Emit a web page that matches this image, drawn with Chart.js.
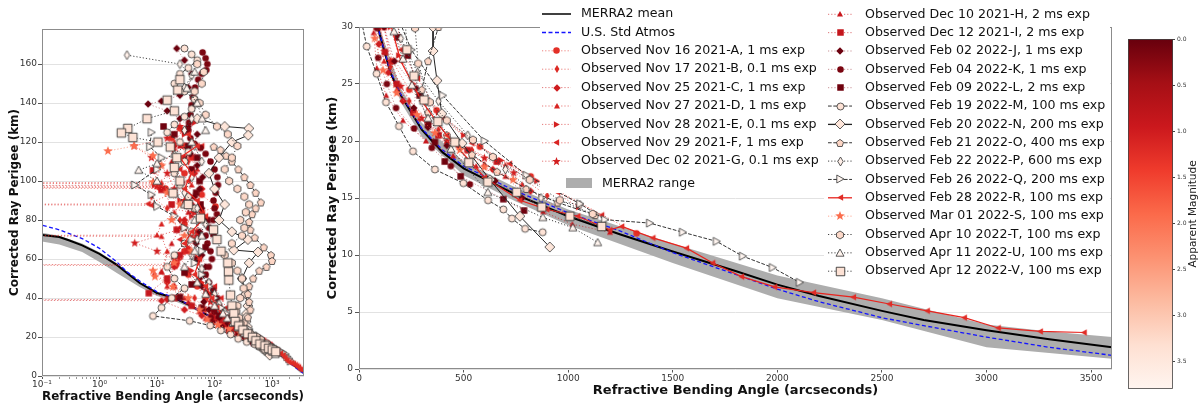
<!DOCTYPE html>
<html><head><meta charset="utf-8">
<script src="https://cdn.jsdelivr.net/npm/chart.js@4.4.1/dist/chart.umd.min.js"></script>
<style>
html,body{margin:0;padding:0;background:#fff;}
body{width:1198px;height:403px;position:relative;overflow:hidden;}
canvas{position:absolute;top:0;}
</style></head><body>
<canvas id="left" width="310" height="403" style="left:0"></canvas>
<canvas id="right" width="810" height="403" style="left:310px"></canvas>
<canvas id="cbar" width="78" height="403" style="left:1120px"></canvas>
<script>
// ---------------- DATA (bending angle [arcsec], perigee height [km]) ----------------
const merraMean = [[3600,1.9],[3300,2.6],[3000,3.4],[2700,4.3],[2500,5.1],[2200,6.4],[2000,7.4],[1800,8.6],[1500,10.3],[1250,11.8],[1000,13.4],[750,15.3],[500,17.6],[400,19.0],[300,21.0],[200,24.0],[150,26.0],[100,29.3],[70,31.7],[40,35.8],[20,40],[10,42.6],[5,47.7],[3,52.8],[2,57],[1,62.6],[0.5,67],[0.3,69.5],[0.2,71.3],[0.1,72.3],[0.08,72.6]];
const stdAtmos = [[3600,1.2],[3300,1.9],[3000,2.8],[2700,3.8],[2500,4.5],[2200,5.9],[2000,7.0],[1800,8.3],[1500,10.2],[1250,12.1],[1000,13.7],[750,15.6],[500,17.8],[400,19.2],[300,21.1],[200,24.1],[150,26.1],[100,29.3],[70,31.8],[40,35.9],[20,40.3],[10,43.2],[5,48.7],[3,53.5],[2,58.5],[1,65.5],[0.5,70.5],[0.3,73],[0.2,75],[0.1,77.4],[0.08,78]];
const merraRangeUpper = [[3600,2.8],[3300,3.3],[3000,3.9],[2500,6.2],[2000,8.2],[1500,11.0],[1000,14.0],[750,15.9],[500,18.2],[300,21.6],[200,24.6],[100,29.8],[40,36.3],[20,40.5],[10,43],[5,48.3],[2,57.8],[1,63.5],[0.5,68],[0.2,72],[0.08,74]];
const merraRangeLower = [[3600,0.9],[3300,1.4],[3000,1.9],[2500,4.3],[2000,6.2],[1500,9.3],[1000,12.6],[750,14.7],[500,17],[300,20.4],[200,23.4],[100,28.6],[40,34.8],[20,38.5],[10,41],[5,45.6],[2,52.8],[1,58.5],[0.5,63.6],[0.2,67.5],[0.08,69.5]];

const obsA = [[25,127],[18,122],[30,118],[40,112],[30,104],[11,96.8],[0.001,96.5],[14,96.2],[60,93],[104,87],[60,84],[30,78],[45,70],[30,64],[22,58],[35,52],[50,46],[70,40],[95,34],[120,30],[160,27],[240,24.5],[371,22.7],[578,19.5],[821,16.9],[1327,11.9]];
const obsB = [[35,110],[20,104],[10,99.3],[0.001,99],[12,98.6],[8,92],[15,86],[25,80],[40,72],[30,64],[19,57.3],[0.001,57],[22,56.6],[9,52],[20,46],[45,40],[70,34],[100,30],[150,26.5],[240,23.5],[380,21],[540,19.2],[700,17.8],[900,15.2]];
const obsC = [[20,118],[30,112],[45,104],[60,96],[40,88],[30,80],[50,72],[35,64],[20,56],[15,48],[15,39.3],[0.001,39],[12,38.6],[30,34],[60,31],[95,28.5],[140,26],[210,23.5],[330,21.5],[480,19.5],[640,17.5],[820,15.6]];
const obsD = [[28,126],[20,120],[35,114],[50,106],[40,98],[30,90],[20,84],[12,78],[10,72.3],[0.001,72],[12,71.6],[15,64],[12,53.5],[15,46],[30,40],[60,34],[85,30],[120,27],[180,24.5],[290,22],[420,20],[600,18],[780,16.2],[1000,13.5]];
const obsE = [[45,130],[30,124],[20,116],[12,108],[9,97.9],[0.001,97.6],[10,97.2],[25,90],[40,82],[55,74],[35,66],[25,60],[40,54],[60,48],[90,42],[110,37],[130,33],[150,30],[190,27.5],[260,25],[380,22.5],[500,20.5],[680,18.3],[850,16.5],[1050,14.2]];
const obsF = [[60,118],[40,112],[25,106],[35,100],[20,94],[7,88.3],[0.001,88],[8,87.6],[40,84],[60,80],[45,74],[25,70],[35,64],[50,58],[70,52],[100,46],[130,40],[160,35],[180,31],[200,28],[280,25.5],[400,22],[540,19.8],[720,18],[950,15.5],[1160,13.5]];
const obsG = [[25,128],[15,122],[4,118],[8,112],[15,104],[20,96],[30,90],[45,84],[30,76],[4.1,68.2],[10,64],[20,60],[35,54],[50,48],[70,44],[85,38],[100,34],[120,30],[150,27],[200,24.8],[300,22],[420,20],[600,18.5],[740,17.2]];
const obsH = [[30,125],[25,118],[18,110],[28,100],[40,92],[35,84],[25,76],[18,68],[12,53.5],[20,46],[35,38],[55,33],[70,29.5],[85,26.4],[130,24],[210,21.8],[320,20],[450,18.7],[560,17.8],[700,16.9],[880,13.8],[1020,12.7],[1200,12.0]];
const obsI = [[8.5,105.5],[12,95.5],[18,88],[22,75],[30,68],[25,62],[15,50],[7.2,42.5],[20,40],[40,36],[90,31],[124,27.8],[180,25],[260,22.5],[380,20.5],[520,19.2],[659,18.2],[893,15.9]];
const obsJ = [[22,168],[30,162],[40,155],[35,148],[25,144],[12,141],[7,139.5],[15,136],[25,132],[35,128],[50,124],[45,119],[38,114],[50,108],[62,102],[55,96],[45,92],[60,86],[70,80],[55,74],[48,68],[60,62],[70,56],[55,50],[60,46],[75,42],[65,38],[80,34],[120,30],[170,27],[274,24.6],[262,22.9],[330,21.2],[420,19.6],[530,18.1],[650,16.5],[780,15]];
const obsK = [[62,166],[70,163],[75,160],[72,157],[60,155],[52,152],[46,148],[42,143],[40,139],[38,134],[36,130],[35,126],[38,122],[45,119],[57,117],[70,114],[85,110],[100,106],[112,102],[115,98],[105,94],[96,90],[100,86],[110,83],[95,80],[80,76],[70,72],[75,68],[85,64],[90,60],[80,56],[70,52],[80,48],[95,44],[110,40],[120,36],[100,33],[86,29.9],[92,27.3],[133,25],[177,22.9],[263,21.1],[348,19.4],[439,17.8],[530,16.2]];
const obsL = [[13,128],[20,124],[35,118],[50,112],[40,106],[55,100],[48,94],[57,88],[75,80],[96,73],[70,66],[50,60],[30,53],[40,47],[25,40.5],[60,35],[120,31],[185,29.1],[233,27.5],[290,24],[330,21.5],[363,19.9],[410,18.2],[486,16.9],[690,14.9],[789,13.9]];
const obsM = [[30,168],[40,165],[50,162],[35,158],[25,155],[20,150],[30,146],[45,142],[40,137],[30,133],[20,129],[15,125],[25,120],[35,115],[30,110],[20,104],[25,98],[35,92],[45,86],[60,80],[40,74],[30,68],[20,62],[15,56],[20,50],[30,45],[18,40],[12,35],[8.5,30.8],[37,28.3],[84,25.9],[129,23.4],[191,21.3],[258,19.1],[363,17.5],[499,16.3],[617,14.8],[690,14.0],[731,13.2],[794,12.3],[878,12.0]];
const obsN = [[50,132],[150,128],[395,127],[386,123.5],[200,120],[120,112],[80,104],[100,96],[150,88],[120,80],[200,74],[380,70],[216,64.6],[570,63.6],[400,58],[300,50],[350,42],[380,36],[360,32],[354,30],[354,27.9],[373,25.3],[396,22.4],[493,19.8],[626,16.6],[769,13.4],[912,10.7]];
const obsO = [[97,117.6],[127,116],[160,113],[200,110],[260,106],[330,102],[420,98],[520,94],[640,89],[520,86],[450,83],[400,79],[420,75],[500,71],[720,66],[960,62],[1000,59],[800,56],[600,54],[470,50],[400,46],[380,42],[400,38],[420,34],[380,30],[330,27],[300,24.5],[330,22.5],[420,20.5],[540,18.8],[660,17.3],[800,15.8],[950,14.6],[1130,13.5]];
const obsP = [[3,164.6],[25,160],[40,154],[30,148],[50,140],[40,132],[30,126],[45,118],[60,110],[40,102],[30,94],[50,86],[70,78],[50,70],[40,62],[60,55],[80,48],[100,42],[120,37],[150,33],[200,29],[280,26],[380,23.5],[520,20.5],[700,17.5],[870,15],[1056,14.4]];
const obsQ = [[8,125],[7.5,117.6],[12,112],[10,106],[4.1,98],[8,93],[10,87],[20,82],[30,76],[40,70],[60,64],[45,58],[60,52],[80,46],[100,40],[130,35],[160,32],[250,28],[400,24],[600,20],[800,17],[1056,14.5],[1175,13.1],[1390,12.8],[1547,12.0],[1709,11.2],[1834,9.9],[1977,8.9],[2106,7.6]];
const obsR = [[35,124],[50,118],[25,112],[40,104],[30,96],[50,90],[70,82],[40,74],[30,68],[55,60],[45,52],[70,46],[90,40],[110,35],[140,31],[200,27],[300,23.5],[420,20.5],[600,16.8],[769,14.8],[898,14.0],[1046,13.4],[1199,12.2],[1256,12.5],[1405,11.5],[1566,10.6],[1691,9.3],[1829,8.1],[1987,7.2],[2173,6.7],[2364,6.3],[2536,5.7],[2717,5.1],[2894,4.5],[3056,3.6],[3257,3.3],[3467,3.2]];
const obsS = [[1.4,115.4],[4,118],[8.5,113],[12,108],[8.5,99.5],[15,94],[25,88],[18,80],[30,72],[40,64],[20,58],[8.5,54],[9.2,51],[19,45.7],[35,40],[55,34],[75,29],[115,26.2],[180,24.2],[277,22.3],[363,20.7],[482,19.2],[600,17.7],[737,16.6]];
const obsT = [[50,160],[65,156],[60,150],[45,146],[55,140],[70,134],[110,128],[170,124],[250,118],[200,112],[150,106],[180,100],[250,96],[330,92],[400,88],[350,84],[280,80],[330,76],[300,72],[200,68],[150,62],[200,58],[250,54],[300,50],[320,45],[280,40],[250,36],[240,33],[268,29.9],[283,26.8],[339,23.4],[420,21.8],[545,20.1],[640,18.6],[816,16.6],[960,14.8],[1117,13.6]];
const obsU = [[45,156],[33,147.6],[50,140],[61,132],[70,126],[40,120],[20,114],[10,109],[4.8,105.6],[10,100],[20,94],[30,88],[45,80],[60,72],[45,64],[30,56],[50,48],[70,42],[100,36],[140,32],[167,29.6],[210,27.2],[253,24.9],[330,22],[440,19.3],[616,15.5],[879,13.3],[1022,12.4],[1141,11.1]];
const obsV = [[25,152],[23,146.7],[15,141.5],[20,136],[6.7,132],[3.1,127],[2.4,124.7],[3.8,122.4],[10.4,120],[17,117.5],[22,112],[20,107],[25,100],[19,93.8],[35,88],[57,81],[96,75],[110,70],[130,64],[170,58],[175,53.5],[177,49.2],[190,41.5],[200,36],[217,32],[229,28],[263,25.7],[311,23.6],[377,21.7],[458,19.9],[525,18.1],[616,16.4],[754,15.5],[874,14.2],[1008,13.4],[1160,12.5]];

const seriesLabels = ['Observed Nov 16 2021-A, 1 ms exp','Observed Nov 17 2021-B, 0.1 ms exp','Observed Nov 25 2021-C, 1 ms exp','Observed Nov 27 2021-D, 1 ms exp','Observed Nov 28 2021-E, 0.1 ms exp','Observed Nov 29 2021-F, 1 ms exp','Observed Dec 02 2021-G, 0.1 ms exp','Observed Dec 10 2021-H, 2 ms exp','Observed Dec 12 2021-I, 2 ms exp','Observed Feb 02 2022-J, 1 ms exp','Observed Feb 04 2022-K, 1 ms exp','Observed Feb 09 2022-L, 2 ms exp','Observed Feb 19 2022-M, 100 ms exp','Observed Feb 20 2022-N, 200 ms exp','Observed Feb 21 2022-O, 400 ms exp','Observed Feb 22 2022-P, 600 ms exp','Observed Feb 26 2022-Q, 200 ms exp','Observed Feb 28 2022-R, 100 ms exp','Observed Mar 01 2022-S, 100 ms exp','Observed Apr 10 2022-T, 100 ms exp','Observed Apr 11 2022-U, 100 ms exp','Observed Apr 12 2022-V, 100 ms exp'];
const seriesData = [obsA,obsB,obsC,obsD,obsE,obsF,obsG,obsH,obsI,obsJ,obsK,obsL,obsM,obsN,obsO,obsP,obsQ,obsR,obsS,obsT,obsU,obsV];
const refLabels = ['MERRA2 mean','U.S. Std Atmos','MERRA2 range'];

const leftYTicks = [0,20,40,60,80,100,120,140,160];
const leftXMajor = [0.1,1,10,100,1000];
const leftXMajorLabels = ['10\u207B\u00B9','10\u2070','10\u00B9','10\u00B2','10\u00B3'];
const leftXMinor = [0.2,0.3,0.4,0.5,0.6,0.7,0.8,0.9,2,3,4,5,6,7,8,9,20,30,40,50,60,70,80,90,200,300,400,500,600,700,800,900,2000,3000];
const rightXTicks = [0,500,1000,1500,2000,2500,3000,3500];
const rightYTicks = [0,5,10,15,20,25,30];
const cbarTicks = [0,0.5,1.0,1.5,2.0,2.5,3.0,3.5];

// ---------------- STYLES ----------------
const seriesStyle = [
 {shape:'o', size:6.5, fill:'#e32f27', edge:null, line:'rgba(227,47,39,0.6)', dash:'dot'},
 {shape:'d', size:8,   fill:'#dc2a25', edge:null, line:'rgba(220,42,37,0.6)', dash:'dot'},
 {shape:'D', size:7.5, fill:'#cf1c1f', edge:null, line:'rgba(207,28,31,0.6)', dash:'dot'},
 {shape:'^', size:6,   fill:'#d82422', edge:null, line:'rgba(216,36,34,0.6)', dash:'dot'},
 {shape:'>', size:6.5, fill:'#d42020', edge:null, line:'rgba(212,32,32,0.6)', dash:'dot'},
 {shape:'<', size:6.5, fill:'#d92523', edge:null, line:'rgba(217,37,35,0.6)', dash:'dot'},
 {shape:'*', size:9,   fill:'#d21f20', edge:null, line:'rgba(210,31,32,0.6)', dash:'dot'},
 {shape:'^', size:6,   fill:'#c9181d', edge:null, line:'rgba(201,24,29,0.6)', dash:'dot'},
 {shape:'s', size:6.5, fill:'#c4161c', edge:null, line:'rgba(196,22,28,0.6)', dash:'dot'},
 {shape:'D', size:7.5, fill:'#6b010e', edge:null, line:'rgba(150,40,50,0.5)', dash:'dot'},
 {shape:'o', size:6.5, fill:'#7a0510', edge:null, line:'rgba(150,40,50,0.5)', dash:'dot'},
 {shape:'s', size:6.5, fill:'#6f020e', edge:null, line:'rgba(150,40,50,0.5)', dash:'dot'},
 {shape:'o', size:7,   fill:'#fee3d6', edge:'#333', line:'#333', dash:'dash'},
 {shape:'D', size:10,  fill:'#fee6da', edge:'#333', line:'#222', dash:'solid'},
 {shape:'p', size:7.5, fill:'#fdd6c5', edge:'#333', line:'#333', dash:'dash'},
 {shape:'d', size:9,   fill:'#fff0e9', edge:'#333', line:'#444', dash:'dot'},
 {shape:'>', size:8,   fill:'#fff5f0', edge:'#333', line:'#333', dash:'dash'},
 {shape:'<', size:6.5, fill:'#e02c26', edge:null, line:'#e8231d', dash:'solid'},
 {shape:'*', size:10,  fill:'#fb6d4d', edge:null, line:'rgba(251,106,74,0.6)', dash:'dot'},
 {shape:'h', size:8,   fill:'#fdd9c9', edge:'#333', line:'#444', dash:'dot'},
 {shape:'^', size:8,   fill:'#fff4ee', edge:'#333', line:'#444', dash:'dot'},
 {shape:'s', size:8.5, fill:'#fde2d5', edge:'#222', line:'#444', dash:'dot'}
];
const dashMap = {dot:[1.2,2], dash:[3.7,1.6], solid:[]};

function makeMarker(shape, size, fill, edge, lw) {
  const pad = 2;
  const dim = Math.ceil(size) + 2*pad;
  const c = document.createElement('canvas');
  c.width = dim; c.height = dim;
  const g = c.getContext('2d');
  const cx = dim/2, cy = dim/2, r = size/2;
  g.beginPath();
  const poly = (pts) => { pts.forEach((p,i)=> i? g.lineTo(cx+p[0],cy+p[1]) : g.moveTo(cx+p[0],cy+p[1])); g.closePath(); };
  if (shape==='o') g.arc(cx,cy,r,0,Math.PI*2);
  else if (shape==='s') poly([[-r,-r],[r,-r],[r,r],[-r,r]]);
  else if (shape==='D') poly([[0,-r],[r,0],[0,r],[-r,0]]);
  else if (shape==='d') poly([[0,-r],[r*0.6,0],[0,r],[-r*0.6,0]]);
  else if (shape==='^') poly([[0,-r],[r,r*0.8],[-r,r*0.8]]);
  else if (shape==='>') poly([[r,0],[-r*0.8,-r],[-r*0.8,r]]);
  else if (shape==='<') poly([[-r,0],[r*0.8,-r],[r*0.8,r]]);
  else if (shape==='*') { const pts=[]; for(let k=0;k<10;k++){const a=-Math.PI/2+k*Math.PI/5; const rr=k%2?r*0.42:r; pts.push([rr*Math.cos(a),rr*Math.sin(a)]);} poly(pts); }
  else if (shape==='h') { const pts=[]; for(let k=0;k<6;k++){const a=-Math.PI/2+k*Math.PI/3; pts.push([r*Math.cos(a),r*Math.sin(a)]);} poly(pts); }
  else if (shape==='p') { const pts=[]; for(let k=0;k<5;k++){const a=-Math.PI/2+k*2*Math.PI/5; pts.push([r*Math.cos(a),r*Math.sin(a)*1.05+r*0.08]);} poly(pts); }
  g.fillStyle = fill; g.fill();
  if (edge) { g.lineWidth = lw; g.strokeStyle = edge; g.stroke(); }
  return c;
}
const markers = seriesStyle.map(s => makeMarker(s.shape, s.size, s.fill, s.edge, 0.8));

function makeDatasets() {
  const ds = [];
  ds.push({label: refLabels[2], data: merraRangeUpper.concat(merraRangeLower.slice().reverse()), showLine:true, borderWidth:0, pointRadius:0, backgroundColor:'#adadad', fill:'shape', order:40, clip:0});
  ds.push({label: refLabels[0], data: merraMean, showLine:true, borderColor:'#000', borderWidth:2, pointRadius:0, fill:false, order:35, clip:0});
  ds.push({label: refLabels[1], data: stdAtmos, showLine:true, borderColor:'#1414ff', borderWidth:1.3, borderDash:[4,2.5], pointRadius:0, fill:false, order:34, clip:0});
  seriesData.forEach((d,i) => {
    const st = seriesStyle[i];
    ds.push({label: seriesLabels[i], data: d, showLine:true, borderColor: st.line, borderWidth: st.dash==='solid' && st.shape==='<' ? 1.2 : 1,
      borderDash: dashMap[st.dash], pointStyle: markers[i], pointRadius: 3, pointHoverRadius:3,
      backgroundColor: st.fill, fill:false, order: 30 - i, clip: 0});
  });
  return ds;
}

Chart.defaults.font.family = "'DejaVu Sans', sans-serif";
Chart.defaults.color = '#444';

const framePlugin = {
  id: 'frame',
  afterDatasetsDraw(chart) {
    const {ctx, chartArea: a} = chart;
    ctx.save();
    ctx.strokeStyle = '#8c8c8c'; ctx.lineWidth = 1; ctx.setLineDash([]);
    ctx.strokeRect(Math.round(a.left)+0.5, Math.round(a.top)+0.5, Math.round(a.right-a.left)-1, Math.round(a.bottom-a.top)-1);
    ctx.restore();
  }
};

// ---------------- LEFT CHART ----------------
new Chart(document.getElementById('left'), {
  type: 'scatter',
  data: { datasets: makeDatasets() },
  options: {
    responsive:false, animation:false, devicePixelRatio:1, events:[],
    layout: { padding: { left:0, right:6, top:29, bottom:0 } },
    plugins: { legend:{display:false}, tooltip:{enabled:false} },
    scales: {
      x: { type:'logarithmic', min:0.1, max:3600,
        afterBuildTicks: s => { s.ticks = leftXMajor.concat(leftXMinor).sort((a,b)=>a-b).map(v => ({value:v, major: leftXMajor.includes(v)})); },
        afterFit: s => { s.height = 27; },
        ticks: { autoSkip:false, maxRotation:0, padding:0, font:{size:9}, color:'#333',
          callback: (v) => { const k = leftXMajor.indexOf(v); return k >= 0 ? leftXMajorLabels[k] : ''; } },
        grid: { drawOnChartArea:false, drawTicks:true, tickLength:3, tickColor:'#555', tickWidth: c => (c.tick && c.tick.major) ? 1 : 0.6 },
        border: { display:false },
        title: { display:true, text:'Refractive Bending Angle (arcseconds)', font:{size:12, weight:'bold', lineHeight:1}, color:'#111', padding:{top:0,bottom:0} }
      },
      y: { min:0, max:178,
        afterBuildTicks: s => { s.ticks = leftYTicks.map(v => ({value:v})); },
        afterFit: s => { s.width = 42; },
        ticks: { font:{size:9}, color:'#333', padding:1, callback: v => String(v) },
        grid: { color:'#e2e2e2', lineWidth:1, tickLength:4, tickColor:'#555' },
        border: { display:false },
        title: { display:true, text:'Corrected Ray Perigee (km)', font:{size:12, weight:'bold', lineHeight:1.2}, color:'#111', padding:{top:8,bottom:0} }
      }
    }
  },
  plugins: [framePlugin]
});

// ---------------- RIGHT CHART ----------------
const legendPlugin = {
  id: 'customLegend',
  afterDraw(chart) {
    const ctx = chart.ctx;
    ctx.save();
    ctx.fillStyle = '#fff';
    ctx.fillRect(230, 0, 285, 193);
    ctx.fillRect(514, 0, 286, 282);
    ctx.font = '12.6px "DejaVu Sans"';
    ctx.textBaseline = 'middle';
    const drawHandle = (x0, x1, y, color, lw, dash, marker) => {
      ctx.save();
      ctx.strokeStyle = color; ctx.lineWidth = lw; ctx.setLineDash(dash);
      ctx.beginPath(); ctx.moveTo(x0, y); ctx.lineTo(x1, y); ctx.stroke();
      ctx.restore();
      if (marker) ctx.drawImage(marker, Math.round((x0+x1)/2 - marker.width/2), Math.round(y - marker.height/2));
    };
    const text = (t, x, y) => { ctx.fillStyle = '#111'; ctx.fillText(t, x, y); };
    const rowH = 18.4;
    drawHandle(232, 261, 14, '#000', 1.5, [], null); text(refLabels[0], 271, 14);
    drawHandle(232, 261, 14+rowH, '#1414ff', 1.5, [4,2.5], null); text(refLabels[1], 271, 14+rowH);
    for (let i = 0; i < 7; i++) {
      const y = 14 + rowH*(i+2); const st = seriesStyle[i];
      drawHandle(232, 261, y, st.line, 1, dashMap[st.dash], markers[i]);
      text(seriesLabels[i], 271, y);
    }
    ctx.fillStyle = '#adadad'; ctx.fillRect(256, 178, 26, 10);
    text(refLabels[2], 292, 183.5);
    for (let i = 7; i < 22; i++) {
      const y = 14.3 + 18.35*(i-7); const st = seriesStyle[i];
      drawHandle(518, 542, y, st.line, st.dash==='solid' ? 1.3 : 1, dashMap[st.dash], markers[i]);
      text(seriesLabels[i], 555, y);
    }
    ctx.restore();
  }
};

new Chart(document.getElementById('right'), {
  type: 'scatter',
  data: { datasets: makeDatasets() },
  options: {
    responsive:false, animation:false, devicePixelRatio:1, events:[],
    layout: { padding: { left:0, right:8, top:27, bottom:0 } },
    plugins: { legend:{display:false}, tooltip:{enabled:false} },
    scales: {
      x: { type:'linear', min:0, max:3600,
        afterBuildTicks: s => { s.ticks = rightXTicks.map(v => ({value:v})); },
        afterFit: s => { s.height = 34; },
        ticks: { autoSkip:false, maxRotation:0, padding:1, font:{size:9}, color:'#333', callback: v => String(v) },
        grid: { drawOnChartArea:false, tickLength:3.5, tickColor:'#555' },
        border: { display:false },
        title: { display:true, text:'Refractive Bending Angle (arcseconds)', font:{size:13, weight:'bold', lineHeight:1.2}, color:'#111', padding:{top:0,bottom:5} }
      },
      y: { min:0, max:30,
        afterBuildTicks: s => { s.ticks = rightYTicks.map(v => ({value:v})); },
        afterFit: s => { s.width = 49; },
        ticks: { font:{size:9}, color:'#333', padding:2, callback: v => String(v) },
        grid: { color:'#e2e2e2', lineWidth:1, tickLength:4, tickColor:'#555' },
        border: { display:false },
        title: { display:true, text:'Corrected Ray Perigee (km)', font:{size:13, weight:'bold', lineHeight:1.2}, color:'#111', padding:{top:15,bottom:0} }
      }
    }
  },
  plugins: [framePlugin, legendPlugin]
});

// ---------------- COLORBAR ----------------
const redsStops = ['#fff5f0','#fee0d2','#fcbba1','#fc9272','#fb6a4a','#ef3b2c','#cb181d','#a50f15','#67000d'];
const cbarPlugin = {
  id: 'cbar',
  beforeDatasetsDraw(chart) {
    const {ctx, chartArea: a} = chart;
    ctx.save();
    const grad = ctx.createLinearGradient(0, a.bottom, 0, a.top);
    redsStops.forEach((c, i) => grad.addColorStop(i/(redsStops.length-1), c));
    ctx.fillStyle = grad;
    ctx.fillRect(a.left, a.top, a.right-a.left, a.bottom-a.top);
    ctx.strokeStyle = '#444'; ctx.lineWidth = 0.8;
    ctx.strokeRect(a.left+0.5, a.top+0.5, a.right-a.left-1, a.bottom-a.top-1);
    ctx.translate(73, (a.top+a.bottom)/2);
    ctx.rotate(-Math.PI/2);
    ctx.font = '10.5px "DejaVu Sans"'; ctx.fillStyle = '#222';
    ctx.textAlign = 'center'; ctx.textBaseline = 'middle';
    ctx.fillText('Apparent Magnitude', 0, 0);
    ctx.restore();
  }
};
new Chart(document.getElementById('cbar'), {
  type: 'scatter',
  data: { datasets: [] },
  options: {
    responsive:false, animation:false, devicePixelRatio:1, events:[],
    layout: { padding: { left:8, right:0, top:39, bottom:14 } },
    plugins: { legend:{display:false}, tooltip:{enabled:false} },
    scales: {
      x: { display:false, min:0, max:1 },
      y: { position:'right', reverse:true, min:0, max:3.8,
        afterBuildTicks: s => { s.ticks = cbarTicks.map(v => ({value:v})); },
        afterFit: s => { s.width = 25; },
        ticks: { font:{size:6}, color:'#333', padding:2, callback: v => Number(v).toFixed(1) },
        grid: { drawOnChartArea:false, tickLength:2, tickColor:'#444' },
        border: { display:false }
      }
    }
  },
  plugins: [cbarPlugin]
});
</script>
</body></html>
